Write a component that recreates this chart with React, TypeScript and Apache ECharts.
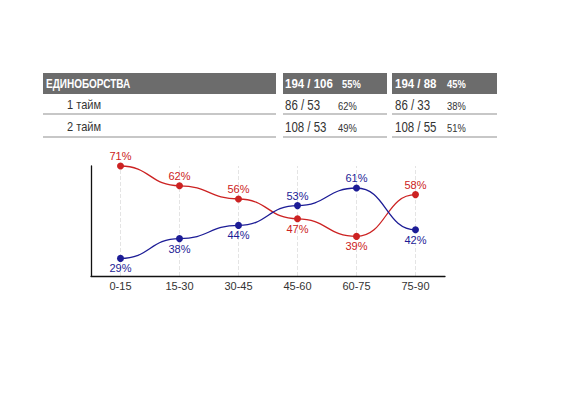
import React, { useEffect, useRef } from "react";
import * as echarts from "echarts";

const categories = ["0-15", "15-30", "30-45", "45-60", "60-75", "75-90"];
const redValues = [71, 62, 56, 47, 39, 58];
const blueValues = [29, 38, 44, 53, 61, 42];
const redLabelPos = ["top", "top", "top", "bottom", "bottom", "top"];
const blueLabelPos = ["bottom", "bottom", "bottom", "top", "top", "bottom"];

const tableTitle = "ЕДИНОБОРСТВА";
const headerA = ["194 / 106", "55%"];
const headerB = ["194 / 88", "45%"];
const rowLabels = ["1 тайм", "2 тайм"];
const rowA = [["86 / 53", "62%"], ["108 / 53", "49%"]];
const rowB = [["86 / 33", "38%"], ["108 / 55", "51%"]];

const FONT = "'Liberation Sans', Arial, sans-serif";
const RED = "#cc2222";
const BLUE = "#1c1c96";

export default function App() {
  const ref = useRef<HTMLDivElement>(null);
  useEffect(() => {
    if (!ref.current) return;
    const chart = echarts.init(ref.current, null, { renderer: "svg" });

    const graphics: any[] = [];
    const headerY = 73;
    const headerH = 21;
    const cols = [
      { x: 43, w: 233 },
      { x: 283, w: 104 },
      { x: 392, w: 105 },
    ];
    cols.forEach((c) => {
      graphics.push({
        type: "rect",
        shape: { x: c.x, y: headerY, width: c.w, height: headerH },
        style: { fill: "#6c6c6c" },
        silent: true,
      });
      [114, 137].forEach((ly) => {
        graphics.push({
          type: "line",
          shape: { x1: c.x, y1: ly, x2: c.x + c.w, y2: ly },
          style: { stroke: "#b4b4b4", lineWidth: 1.5 },
          silent: true,
        });
      });
    });
    const txt = (x: number, y: number, text: string, size: number, color: string, weight: string, sx: number) => ({
      type: "text",
      x,
      y,
      scaleX: sx,
      style: {
        text,
        fill: color,
        fontSize: size,
        fontWeight: weight,
        fontFamily: FONT,
        verticalAlign: "middle",
      },
      silent: true,
    });
    const hy = headerY + headerH / 2;
    graphics.push(txt(46, hy, tableTitle, 12.5, "#ffffff", "bold", 0.8));
    graphics.push(txt(285, hy, headerA[0], 13.5, "#ffffff", "bold", 0.85));
    graphics.push(txt(342, hy + 1, headerA[1], 11, "#ffffff", "bold", 0.85));
    graphics.push(txt(395, hy, headerB[0], 13.5, "#ffffff", "bold", 0.85));
    graphics.push(txt(447, hy + 1, headerB[1], 11, "#ffffff", "bold", 0.85));
    const rowYs = [105, 127];
    rowLabels.forEach((l, i) => {
      const y = rowYs[i];
      graphics.push(txt(67, y, l, 13, "#333333", "normal", 0.85));
      graphics.push(txt(285, y, rowA[i][0], 14, "#333333", "normal", 0.82));
      graphics.push(txt(338, y + 1, rowA[i][1], 11, "#333333", "normal", 0.85));
      graphics.push(txt(395, y, rowB[i][0], 14, "#333333", "normal", 0.82));
      graphics.push(txt(447, y + 1, rowB[i][1], 11, "#333333", "normal", 0.85));
    });

    const segData = (vals: number[]) =>
      vals.slice(0, -1).map((v, i) => [i, v, vals[i + 1]]);

    const curveSeries = (vals: number[], color: string) => ({
      type: "custom",
      silent: true,
      z: 1,
      data: segData(vals),
      renderItem: (params: any, api: any) => {
        const i = api.value(0);
        const p0 = api.coord([i, api.value(1)]);
        const p1 = api.coord([i + 1, api.value(2)]);
        const dx = (p1[0] - p0[0]) * 0.5;
        return {
          type: "bezierCurve",
          shape: {
            x1: p0[0],
            y1: p0[1],
            x2: p1[0],
            y2: p1[1],
            cpx1: p0[0] + dx,
            cpy1: p0[1],
            cpx2: p1[0] - dx,
            cpy2: p1[1],
          },
          style: { stroke: color, lineWidth: 1.3, fill: "none" },
        };
      },
    });

    const pointSeries = (name: string, vals: number[], pos: string[], color: string) => ({
      name,
      type: "line",
      z: 3,
      data: vals.map((v, i) => ({
        value: v,
        label: { position: pos[i] },
      })),
      lineStyle: { opacity: 0 },
      symbol: "circle",
      symbolSize: 7,
      itemStyle: { color, borderWidth: 0 },
      label: {
        show: true,
        formatter: "{c}%",
        color,
        fontSize: 11,
        fontFamily: FONT,
        distance: 1,
      },
    });

    chart.setOption({
      animation: false,
      graphic: graphics,
      grid: { left: 91, right: 117, top: 166, bottom: 118 },
      xAxis: {
        type: "category",
        data: categories,
        boundaryGap: true,
        axisLine: { lineStyle: { color: "#111111", width: 1.3 } },
        axisTick: { show: false },
        axisLabel: { color: "#333333", fontSize: 11, fontFamily: FONT, margin: 4 },
        splitLine: { show: false },
      },
      yAxis: {
        type: "value",
        min: 21,
        max: 71,
        axisLine: { show: true, lineStyle: { color: "#111111", width: 1.3 } },
        axisTick: { show: false },
        axisLabel: { show: false },
        splitLine: { show: false },
      },
      series: [
        {
          type: "line",
          z: 0,
          data: categories.map(() => null),
          silent: true,
          markLine: {
            silent: true,
            z: 0,
            symbol: "none",
            label: { show: false },
            lineStyle: { color: "#e4e4e4", type: "dashed", width: 1 },
            data: categories.map((c) => ({ xAxis: c })),
          },
        },
        curveSeries(redValues, RED),
        curveSeries(blueValues, BLUE),
        pointSeries("red", redValues, redLabelPos, RED),
        pointSeries("blue", blueValues, blueLabelPos, BLUE),
      ],
    });
    return () => chart.dispose();
  }, []);
  return (
    <div
      ref={ref}
      style={{ position: "absolute", left: 0, top: 0, width: 562, height: 394 }}
    />
  );
}
